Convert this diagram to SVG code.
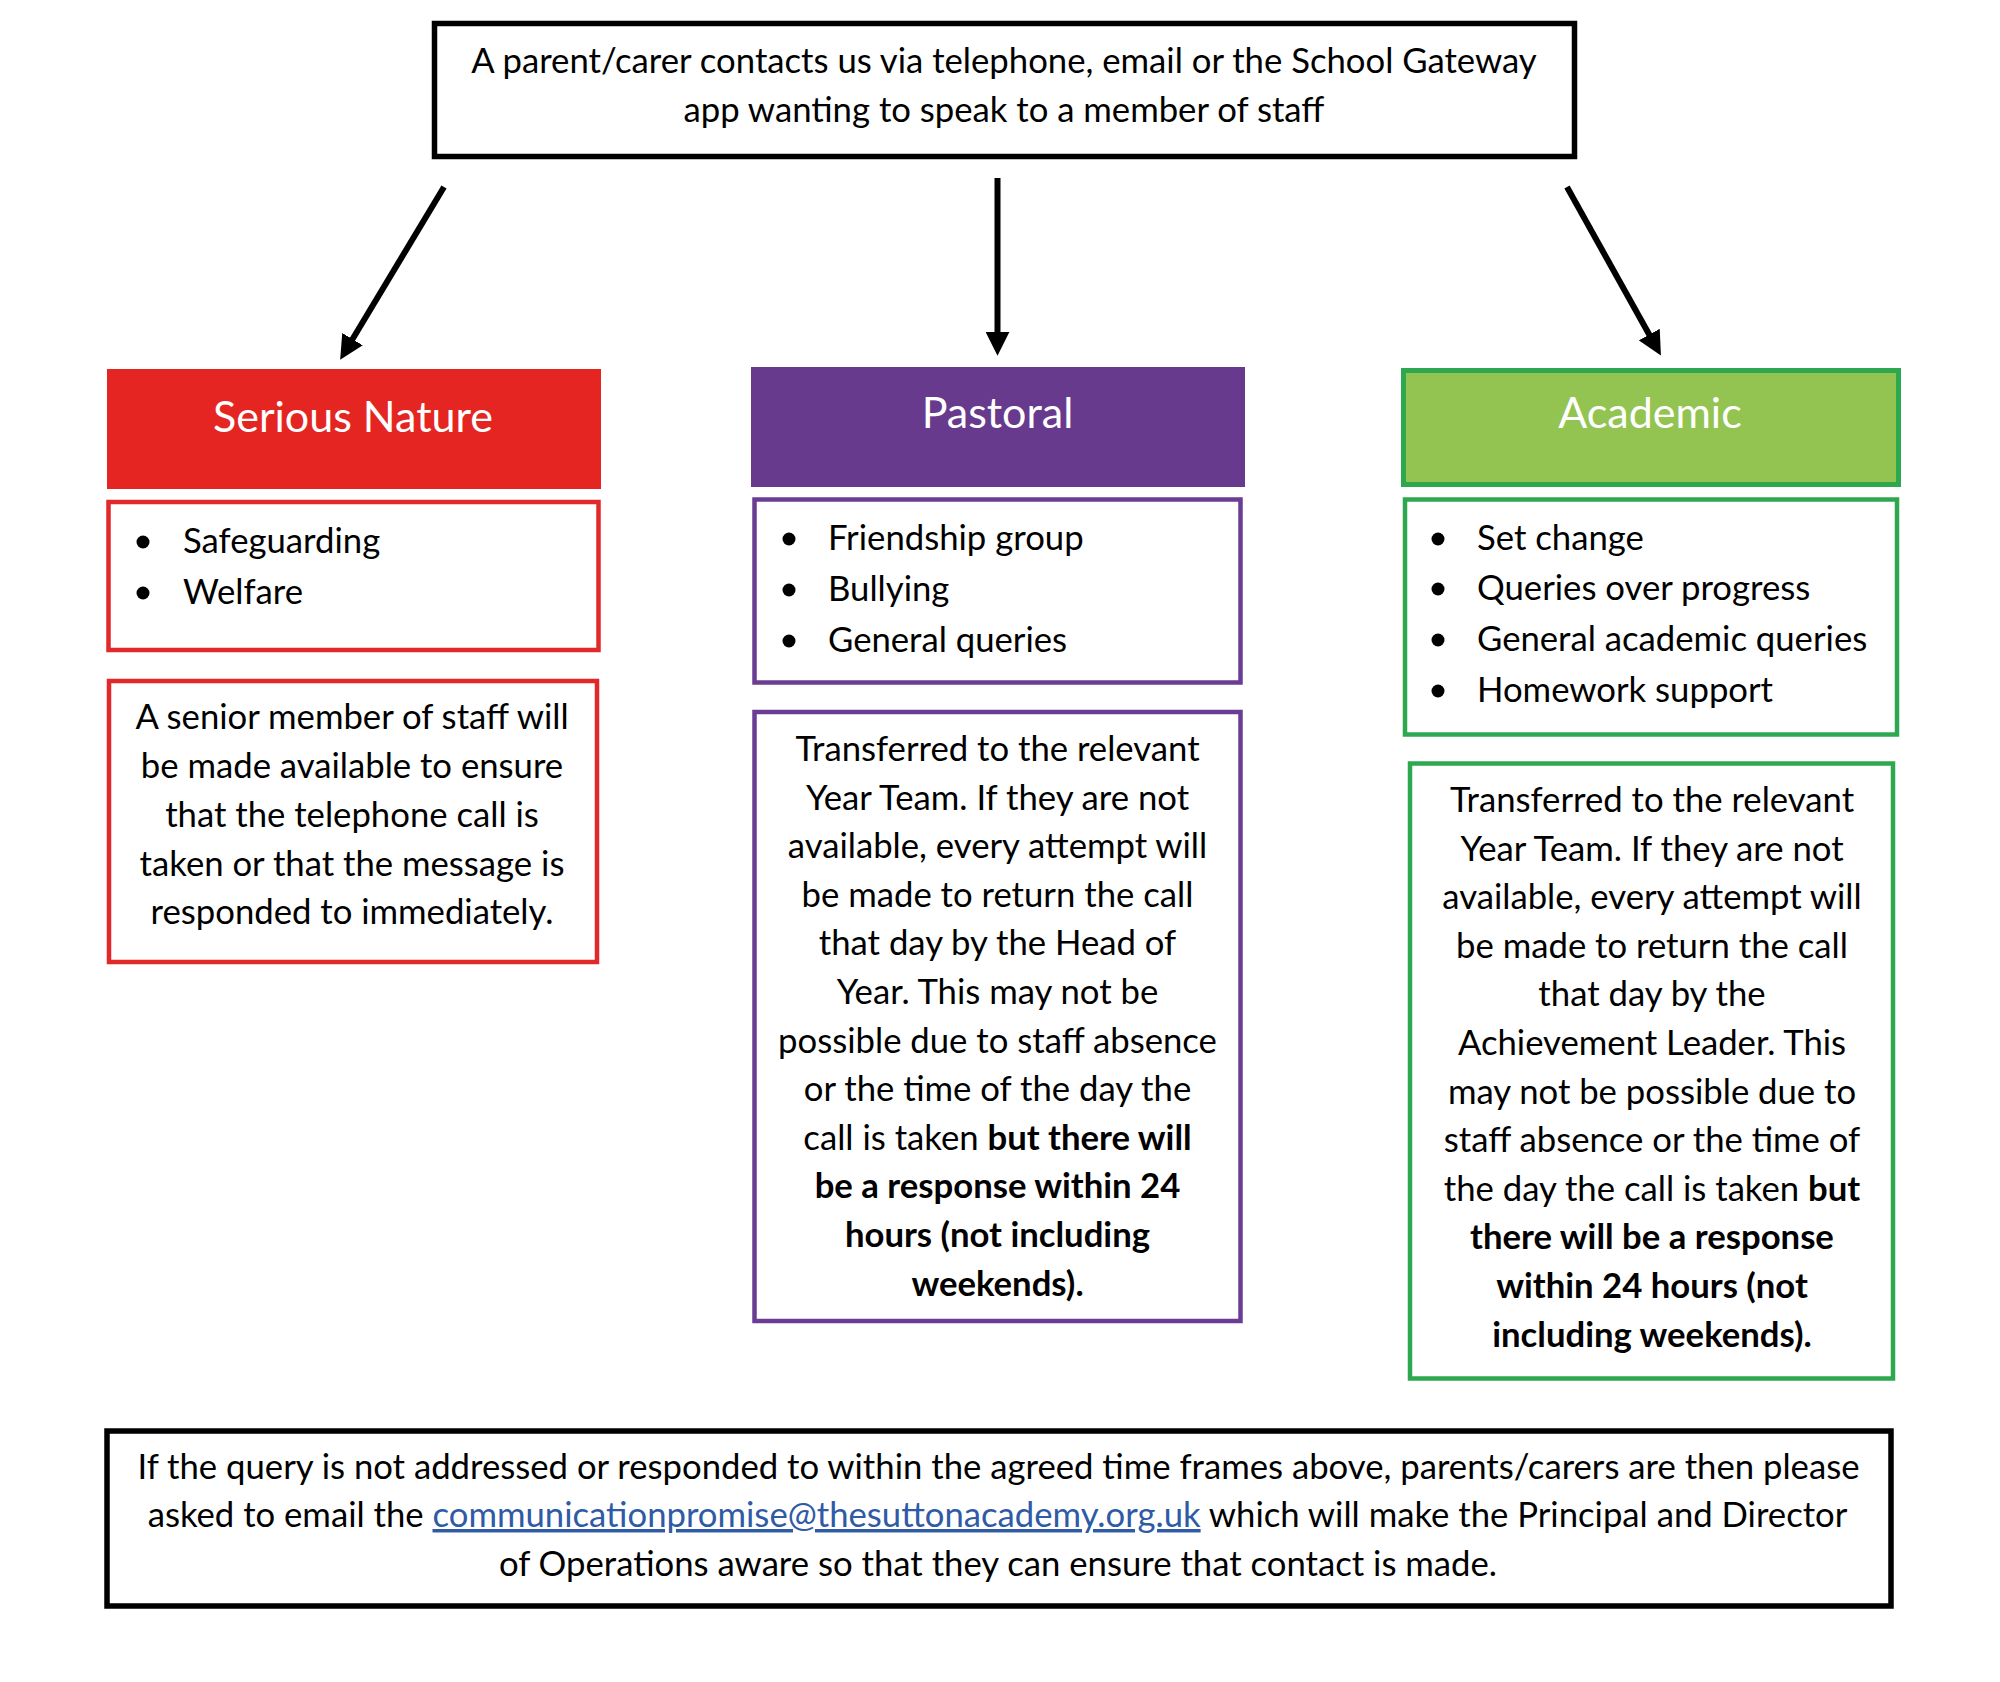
<svg xmlns="http://www.w3.org/2000/svg" width="2000" height="1682" viewBox="0 0 2000 1682">
<style>
text{font-family:Lato,"Open Sans","Liberation Sans",sans-serif;fill:#000;}
.body{font-size:34.7px;}
.c{text-anchor:middle;}
.b{font-weight:bold;}
.head{font-size:43px;fill:#fff;text-anchor:middle;}
.box{fill:#fff;stroke:#000;stroke-width:5.5;}
.red{fill:#fff;stroke:#E2292A;stroke-width:4.5;}
.pur{fill:#fff;stroke:#6A3C93;stroke-width:4.5;}
.grn{fill:#fff;stroke:#2EA84E;stroke-width:4.5;}
.conn{stroke:#000;stroke-width:6;fill:none;marker-end:url(#ah);}
.link{fill:#2F5AA6;text-decoration:underline;}
.dot{fill:#000;}
</style>
<defs>
<marker id="ah" markerUnits="userSpaceOnUse" markerWidth="24" markerHeight="24" refX="2" refY="11" orient="auto" viewBox="0 0 22 22">
<path d="M0,0 L22,11 L0,22 z" fill="#000"/>
</marker>
</defs>
<rect width="2000" height="1682" fill="#fff"/>

<g id="contact">
<rect class="box" x="434.5" y="23.5" width="1140" height="133"/>
<text class="body c" x="1004" y="73">A parent/carer contacts us via telephone, email or the School Gateway</text>
<text class="body c" x="1004" y="122">app wanting to speak to a member of staff</text>
</g>

<g id="connectors">
<line class="conn" x1="444" y1="187" x2="351.4" y2="341"/>
<line class="conn" x1="997.5" y1="178" x2="997.5" y2="334"/>
<line class="conn" x1="1567" y1="187" x2="1650.3" y2="336.5"/>
</g>

<g id="serious-head">
<rect x="107" y="369" width="494" height="120" fill="#E52521"/>
<text class="head" x="353" y="432">Serious Nature</text>
</g>
<g id="serious-topics">
<rect class="red" x="108.5" y="502" width="490" height="148"/>
<circle class="dot" cx="143" cy="542" r="6.5"/>
<text class="body" x="183" y="553">Safeguarding</text>
<circle class="dot" cx="143" cy="593" r="6.5"/>
<text class="body" x="183" y="604">Welfare</text>
</g>
<g id="serious-desc">
<rect class="red" x="109" y="681" width="488" height="281"/>
<text class="body c" x="352" y="729">A senior member of staff will</text>
<text class="body c" x="352" y="778">be made available to ensure</text>
<text class="body c" x="352" y="827">that the telephone call is</text>
<text class="body c" x="352" y="876">taken or that the message is</text>
<text class="body c" x="352" y="924">responded to immediately.</text>
</g>

<g id="pastoral-head">
<rect x="751" y="367" width="494" height="120" fill="#673A8E"/>
<text class="head" x="997.5" y="428">Pastoral</text>
</g>
<g id="pastoral-topics">
<rect class="pur" x="754.5" y="499.5" width="486" height="183"/>
<circle class="dot" cx="789" cy="539" r="6.5"/>
<text class="body" x="828" y="550">Friendship group</text>
<circle class="dot" cx="789" cy="590" r="6.5"/>
<text class="body" x="828" y="601">Bullying</text>
<circle class="dot" cx="789" cy="641" r="6.5"/>
<text class="body" x="828" y="652">General queries</text>
</g>
<g id="pastoral-desc">
<rect class="pur" x="754.5" y="712" width="486" height="609"/>
<text class="body c" x="997.5" y="761">Transferred to the relevant</text>
<text class="body c" x="997.5" y="809.6">Year Team. If they are not</text>
<text class="body c" x="997.5" y="858.2">available, every attempt will</text>
<text class="body c" x="997.5" y="906.8">be made to return the call</text>
<text class="body c" x="997.5" y="955.4">that day by the Head of</text>
<text class="body c" x="997.5" y="1004">Year. This may not be</text>
<text class="body c" x="997.5" y="1052.6">possible due to staff absence</text>
<text class="body c" x="997.5" y="1101.2">or the time of the day the</text>
<text class="body c" x="997.5" y="1149.8">call is taken <tspan class="b">but there will</tspan></text>
<text class="body c b" x="997.5" y="1198.4">be a response within 24</text>
<text class="body c b" x="997.5" y="1247">hours (not including</text>
<text class="body c b" x="997.5" y="1295.6">weekends).</text>
</g>

<g id="academic-head">
<rect x="1403.5" y="370.5" width="495" height="114" fill="#93C452" stroke="#2EA84E" stroke-width="5"/>
<text class="head" x="1650" y="428">Academic</text>
</g>
<g id="academic-topics">
<rect class="grn" x="1405" y="499.5" width="492" height="235"/>
<circle class="dot" cx="1438" cy="539" r="6.5"/>
<text class="body" x="1477" y="550">Set change</text>
<circle class="dot" cx="1438" cy="589" r="6.5"/>
<text class="body" x="1477" y="600">Queries over progress</text>
<circle class="dot" cx="1438" cy="640" r="6.5"/>
<text class="body" x="1477" y="651">General academic queries</text>
<circle class="dot" cx="1438" cy="691" r="6.5"/>
<text class="body" x="1477" y="702">Homework support</text>
</g>
<g id="academic-desc">
<rect class="grn" x="1410" y="763.5" width="483" height="615"/>
<text class="body c" x="1652" y="812">Transferred to the relevant</text>
<text class="body c" x="1652" y="860.6">Year Team. If they are not</text>
<text class="body c" x="1652" y="909.2">available, every attempt will</text>
<text class="body c" x="1652" y="957.8">be made to return the call</text>
<text class="body c" x="1652" y="1006.4">that day by the</text>
<text class="body c" x="1652" y="1055">Achievement Leader. This</text>
<text class="body c" x="1652" y="1103.6">may not be possible due to</text>
<text class="body c" x="1652" y="1152.2">staff absence or the time of</text>
<text class="body c" x="1652" y="1200.8">the day the call is taken <tspan class="b">but</tspan></text>
<text class="body c b" x="1652" y="1249.4">there will be a response</text>
<text class="body c b" x="1652" y="1298">within 24 hours (not</text>
<text class="body c b" x="1652" y="1346.6">including weekends).</text>
</g>

<g id="escalation">
<rect class="box" x="107" y="1431" width="1784" height="175"/>
<text class="body c" x="998.5" y="1479">If the query is not addressed or responded to within the agreed time frames above, parents/carers are then please</text>
<text class="body c" x="997.5" y="1527">asked to email the <tspan class="link">communicationpromise@thesuttonacademy.org.uk</tspan> which will make the Principal and Director</text>
<text class="body c" x="998" y="1576">of Operations aware so that they can ensure that contact is made.</text>
</g>
</svg>
